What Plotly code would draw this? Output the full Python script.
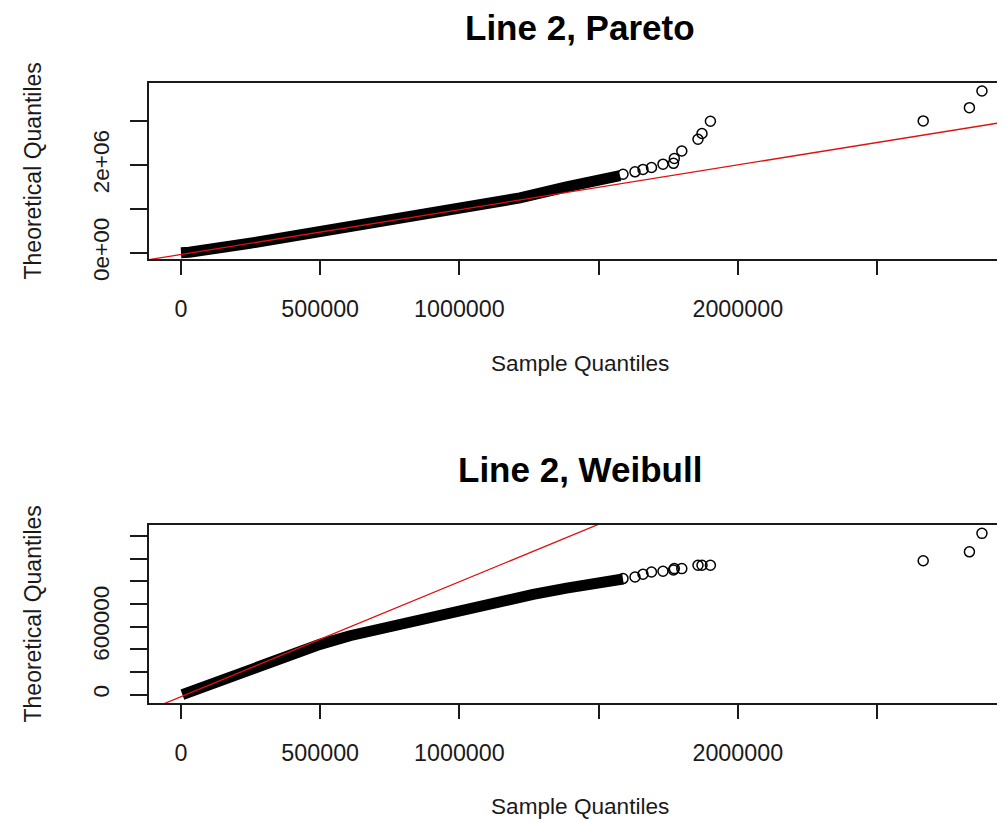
import plotly.graph_objects as go

# ---------------- data ----------------
# Pareto panel: dense band (sample quantile, theoretical quantile)
pareto_band_x = [0, 30000, 247800, 499300, 786600, 1005700, 1145800, 1217600, 1385000, 1505000, 1577000]
pareto_band_y = [0, 10000, 215000, 472000, 768000, 995000, 1160000, 1250000, 1500000, 1640000, 1760000]

# Weibull panel: dense band
weibull_band_x = [5000, 68000, 212000, 355600, 427400, 499300, 607000, 786600, 966000, 1145800, 1265000, 1385000, 1505000, 1587700]
weibull_band_y = [0, 59000, 197000, 325000, 386000, 444000, 520000, 626000, 729000, 823700, 885000, 940000, 985000, 1020000]

# sparse upper tail, shared sample quantiles
tail_x = [1587700, 1630800, 1659500, 1690000, 1731300, 1769000, 1772000, 1798900, 1857000, 1871400, 1901600, 2666000, 2832000, 2877000]
pareto_tail_y = [1790000, 1845000, 1900000, 1945000, 2020000, 2040000, 2150000, 2320000, 2590000, 2720000, 3000000, 3007000, 3310000, 3690000]
weibull_tail_y = [1024000, 1038000, 1062000, 1082000, 1089000, 1100000, 1112000, 1112000, 1142000, 1142000, 1142000, 1181000, 1260000, 1423000]

# reference (qqline) lines: intercept, slope
pareto_line = (-41000, 1.022)
weibull_line = (-18000, 1.014)

# axis ticks
x_tickvals = [0, 500000, 1000000, 1500000, 2000000, 2500000]
x_ticktext = ["0", "500000", "1000000", "", "2000000", ""]
pareto_tickvals = [0, 1000000, 2000000, 3000000]
pareto_ticktext = ["0e+00", "", "2e+06", ""]
weibull_tickvals = [0, 200000, 400000, 600000, 800000, 1000000, 1200000, 1400000]
weibull_ticktext = ["0", "", "", "600000", "", "", "", ""]

titles = ["Line 2, Pareto", "Line 2, Weibull"]
xlabel = "Sample Quantiles"
ylabel = "Theoretical Quantiles"

# ---------------- layout geometry ----------------
OFF = 8            # default page body margin
W, H = 1005 - OFF, 822 - OFF
ML = 149 - OFF
x_range = [-114900, 2959800]
pareto_yrange = [-143500, 3872400]
weibull_yrange = [-73500, 1496800]

def py(p):
    return (H - (p - OFF)) / H

def px(p):
    return (p - OFF - ML) / (W - ML)

dom_top = [py(259), py(83)]
dom_bot = [py(703), py(525)]

FONT = "Liberation Sans, Arial, sans-serif"
INK = "#1a1a1a"

fig = go.Figure()

def add_panel(xa, ya, band_x, band_y, tail_y, line):
    fig.add_trace(go.Scatter(
        x=band_x, y=band_y, xaxis=xa, yaxis=ya, mode="lines",
        line=dict(color="black", width=11),
        showlegend=False, hoverinfo="skip"))
    fig.add_trace(go.Scatter(
        x=tail_x, y=tail_y, xaxis=xa, yaxis=ya, mode="markers",
        marker=dict(symbol="circle-open", size=10, color="black", line=dict(width=1.5)),
        showlegend=False))
    a, b = line
    lx = [x_range[0], x_range[1]]
    ly = [a + b * v for v in lx]
    fig.add_trace(go.Scatter(
        x=lx, y=ly, xaxis=xa, yaxis=ya, mode="lines",
        line=dict(color="#dd1111", width=1.3), showlegend=False, hoverinfo="skip"))

add_panel("x", "y", pareto_band_x, pareto_band_y, pareto_tail_y, pareto_line)
add_panel("x2", "y2", weibull_band_x, weibull_band_y, weibull_tail_y, weibull_line)

xaxis_common = dict(
    range=x_range, domain=[0, 1], showgrid=False, zeroline=False,
    showline=True, mirror=True, linecolor=INK, linewidth=1.6,
    ticks="outside", ticklen=14, tickwidth=1.6, tickcolor=INK,
    tickvals=x_tickvals, ticktext=x_ticktext,
    tickfont=dict(family=FONT, size=23.3, color=INK),
    ticklabelstandoff=14, automargin=False, fixedrange=True)

yaxis_common = dict(
    showgrid=False, zeroline=False, showline=True, mirror=False,
    linecolor=INK, linewidth=1.6, ticks="outside", ticklen=17,
    tickwidth=1.6, tickcolor=INK, tickangle=-90,
    tickfont=dict(family=FONT, size=22.5, color=INK),
    ticklabelstandoff=12, automargin=False, fixedrange=True)

fig.update_layout(
    width=W, height=H,
    margin=dict(l=ML, r=0, t=0, b=0, autoexpand=False),
    paper_bgcolor="white", plot_bgcolor="white",
    xaxis=dict(anchor="y", **xaxis_common),
    yaxis=dict(anchor="x", domain=dom_top, range=pareto_yrange,
               tickvals=pareto_tickvals, ticktext=pareto_ticktext, **yaxis_common),
    xaxis2=dict(anchor="y2", **xaxis_common),
    yaxis2=dict(anchor="x2", domain=dom_bot, range=weibull_yrange,
                tickvals=weibull_tickvals, ticktext=weibull_ticktext, **yaxis_common),
)

ann = []
for title, ty, xly, ycy in [(titles[0], 27, 364, 171), (titles[1], 469, 806, 614)]:
    ann.append(dict(text="<b>%s</b>" % title, x=px(580), y=py(ty), xref="paper", yref="paper",
                    xanchor="center", yanchor="middle", showarrow=False,
                    font=dict(family=FONT, size=35, color="black")))
    ann.append(dict(text=xlabel, x=px(580), y=py(xly), xref="paper", yref="paper",
                    xanchor="center", yanchor="middle", showarrow=False,
                    font=dict(family=FONT, size=22.6, color=INK)))
    ann.append(dict(text=ylabel, x=px(32.5), y=py(ycy), xref="paper", yref="paper",
                    xanchor="center", yanchor="middle", showarrow=False, textangle=-90,
                    font=dict(family=FONT, size=23, color=INK)))
fig.update_layout(annotations=ann)

fig.write_html("out.html")
